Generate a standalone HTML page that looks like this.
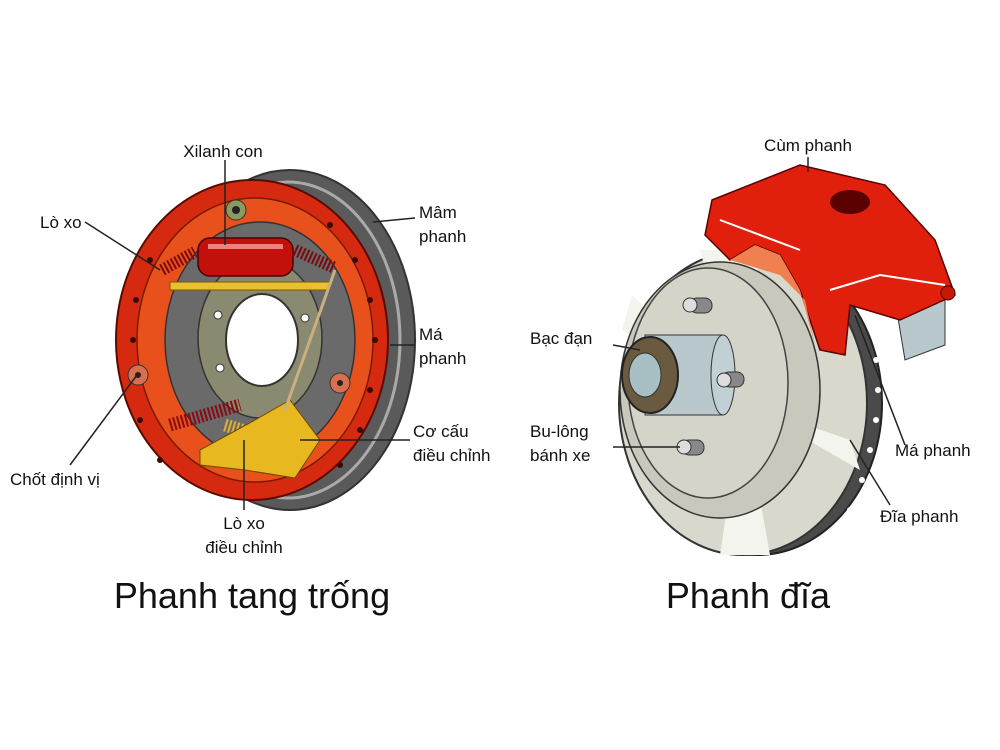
<!DOCTYPE html>
<html><head><meta charset="utf-8"><style>
body{margin:0;background:#fff}
svg{display:block}
text{font-family:"Liberation Sans",sans-serif;fill:#111}
</style></head><body>
<svg width="1000" height="750" viewBox="0 0 1000 750">
<!-- DRUM BRAKE -->
<ellipse cx="290" cy="340" rx="125" ry="170" fill="#5a5a5a" stroke="#333" stroke-width="2"/>
<ellipse cx="288" cy="340" rx="112" ry="158" fill="none" stroke="#aaa" stroke-width="3"/>
<ellipse cx="252" cy="340" rx="136" ry="160" fill="#d62a10" stroke="#5a0a00" stroke-width="2"/>
<ellipse cx="255" cy="340" rx="118" ry="142" fill="#e8501c" stroke="#7a1a00" stroke-width="1.5"/>
<ellipse cx="260" cy="340" rx="95" ry="118" fill="#6a6a6a" stroke="#333" stroke-width="1.5"/>
<ellipse cx="260" cy="338" rx="62" ry="80" fill="#8a8a70" stroke="#333" stroke-width="1.5"/>
<ellipse cx="262" cy="340" rx="36" ry="46" fill="#fff" stroke="#333" stroke-width="2"/>
<circle cx="218" cy="315" r="4" fill="#fff" stroke="#333"/><circle cx="305" cy="318" r="4" fill="#fff" stroke="#333"/><circle cx="220" cy="368" r="4" fill="#fff" stroke="#333"/>
<g fill="#3a0a00">
<circle cx="150" cy="260" r="3"/><circle cx="136" cy="300" r="3"/><circle cx="133" cy="340" r="3"/><circle cx="140" cy="420" r="3"/><circle cx="160" cy="460" r="3"/>
<circle cx="330" cy="225" r="3"/><circle cx="355" cy="260" r="3"/><circle cx="370" cy="300" r="3"/><circle cx="375" cy="340" r="3"/><circle cx="370" cy="390" r="3"/><circle cx="360" cy="430" r="3"/><circle cx="340" cy="465" r="3"/>
</g>
<rect x="170" y="282" width="160" height="8" fill="#e8c030" stroke="#7a5a00"/>
<rect x="198" y="238" width="95" height="38" rx="12" fill="#c4100a" stroke="#4a0000" stroke-width="1.5"/>
<rect x="208" y="244" width="75" height="5" fill="#f08080"/>
<path d="M162 270 L195 252 M295 250 L335 268" stroke="#7a0a10" stroke-width="12" stroke-dasharray="2 2"/>
<path d="M170 425 L240 405" stroke="#8a0a10" stroke-width="13" stroke-dasharray="2 2"/>
<path d="M225 425 L275 440" stroke="#e0b030" stroke-width="13" stroke-dasharray="2 2"/>
<path d="M255 420 L290 400 L320 440 L295 478 L245 470 L200 465 L200 450 Z" fill="#e8b820" stroke="#6a4a00"/>
<path d="M285 410 L335 270" stroke="#c8b080" stroke-width="3" fill="none"/>
<circle cx="236" cy="210" r="10" fill="#8a9a60" stroke="#333"/><circle cx="236" cy="210" r="4" fill="#222"/>
<circle cx="138" cy="375" r="10" fill="#d87050" stroke="#333"/><circle cx="138" cy="375" r="3" fill="#222"/>
<circle cx="340" cy="383" r="10" fill="#d87050" stroke="#333"/><circle cx="340" cy="383" r="3" fill="#222"/>
<g stroke="#222" stroke-width="1.5" fill="none">
<line x1="225" y1="160" x2="225" y2="245"/>
<path d="M85 222 L160 270"/>
<path d="M373 222 L415 218"/>
<path d="M390 345 L415 345"/>
<path d="M70 465 L137 375"/>
<path d="M300 440 L410 440"/>
<path d="M244 440 L244 510"/>
</g>
<text x="223" y="157" font-size="17" text-anchor="middle">Xilanh con</text>
<text x="40" y="228" font-size="17">Lò xo</text>
<text x="419" y="218" font-size="17">Mâm</text>
<text x="419" y="242" font-size="17">phanh</text>
<text x="419" y="340" font-size="17">Má</text>
<text x="419" y="364" font-size="17">phanh</text>
<text x="10" y="485" font-size="17">Chốt định vị</text>
<text x="413" y="437" font-size="17">Cơ cấu</text>
<text x="413" y="461" font-size="17">điều chỉnh</text>
<text x="244" y="529" font-size="17" text-anchor="middle">Lò xo</text>
<text x="244" y="553" font-size="17" text-anchor="middle">điều chỉnh</text>
<text x="252" y="608" font-size="36" text-anchor="middle">Phanh tang trống</text>

<!-- DISC BRAKE -->
<ellipse cx="757" cy="403" rx="125" ry="152" fill="#4a4a4a" stroke="#222" stroke-width="2"/>
<ellipse cx="743" cy="403" rx="124" ry="152" fill="#d8d8cc" stroke="#333" stroke-width="2"/>
<path d="M743 403 L700 250 L760 250 Z" fill="#f4f4ee"/>
<path d="M743 403 L720 555 L770 555 Z" fill="#f4f4ee"/>
<path d="M743 403 L622 330 L632 295 Z" fill="#f4f4ee"/>
<path d="M743 403 L850 440 L860 470 Z" fill="#f4f4ee"/>
<ellipse cx="720" cy="390" rx="100" ry="128" fill="#c8c8bc" stroke="#333" stroke-width="1.5"/>
<ellipse cx="708" cy="383" rx="80" ry="115" fill="#d4d4c8" stroke="#444" stroke-width="1.5"/>
<g fill="#fff">
<circle cx="865" cy="300" r="3"/><circle cx="872" cy="330" r="3"/><circle cx="876" cy="360" r="3"/><circle cx="878" cy="390" r="3"/><circle cx="876" cy="420" r="3"/><circle cx="870" cy="450" r="3"/><circle cx="862" cy="480" r="3"/><circle cx="850" cy="510" r="3"/><circle cx="838" cy="535" r="3"/>
</g>
<rect x="645" y="335" width="78" height="80" fill="#b8c8cc" stroke="#333"/>
<ellipse cx="723" cy="375" rx="12" ry="40" fill="#c0d0d4" stroke="#333"/>
<ellipse cx="650" cy="375" rx="28" ry="38" fill="#6a5a40" stroke="#222" stroke-width="2"/>
<ellipse cx="645" cy="375" rx="16" ry="22" fill="#a8c0c4" stroke="#333"/>
<g fill="#888" stroke="#333"><rect x="690" y="298" width="22" height="15" rx="7"/><rect x="722" y="372" width="22" height="15" rx="7"/><rect x="682" y="440" width="22" height="15" rx="7"/></g>
<g fill="#ddd" stroke="#333"><circle cx="690" cy="305" r="7"/><circle cx="724" cy="380" r="7"/><circle cx="684" cy="447" r="7"/></g>
<path d="M895 300 L945 290 L945 345 L905 360 Z" fill="#b8c8cc" stroke="#333"/>
<path d="M712 200 L800 165 L885 185 L935 240 L955 295 L900 320 L850 305 L845 355 L820 350 L800 290 L780 255 L755 245 L730 260 L705 235 Z" fill="#e0200c" stroke="#5a0000" stroke-width="1.5"/>
<path d="M730 260 L755 245 L780 255 L800 290 L815 345 L805 300 L780 275 Z" fill="#f08050"/>
<ellipse cx="850" cy="202" rx="20" ry="12" fill="#5a0000"/>
<path d="M720 220 L800 250" stroke="#fff" stroke-width="2"/>
<path d="M830 290 L880 275 L945 285" stroke="#fff" stroke-width="2" fill="none"/>
<circle cx="948" cy="293" r="7" fill="#c81808" stroke="#400"/>
<g stroke="#222" stroke-width="1.5" fill="none">
<line x1="808" y1="157" x2="808" y2="172"/>
<line x1="613" y1="345" x2="640" y2="350"/>
<line x1="613" y1="447" x2="680" y2="447"/>
<path d="M855 315 L905 445"/>
<path d="M850 440 L890 505"/>
</g>
<text x="808" y="151" font-size="17" text-anchor="middle">Cùm phanh</text>
<text x="530" y="344" font-size="17">Bạc đạn</text>
<text x="530" y="437" font-size="17">Bu-lông</text>
<text x="530" y="461" font-size="17">bánh xe</text>
<text x="895" y="456" font-size="17">Má phanh</text>
<text x="880" y="522" font-size="17">Đĩa phanh</text>
<text x="748" y="608" font-size="36" text-anchor="middle">Phanh đĩa</text>
</svg>
</body></html>
